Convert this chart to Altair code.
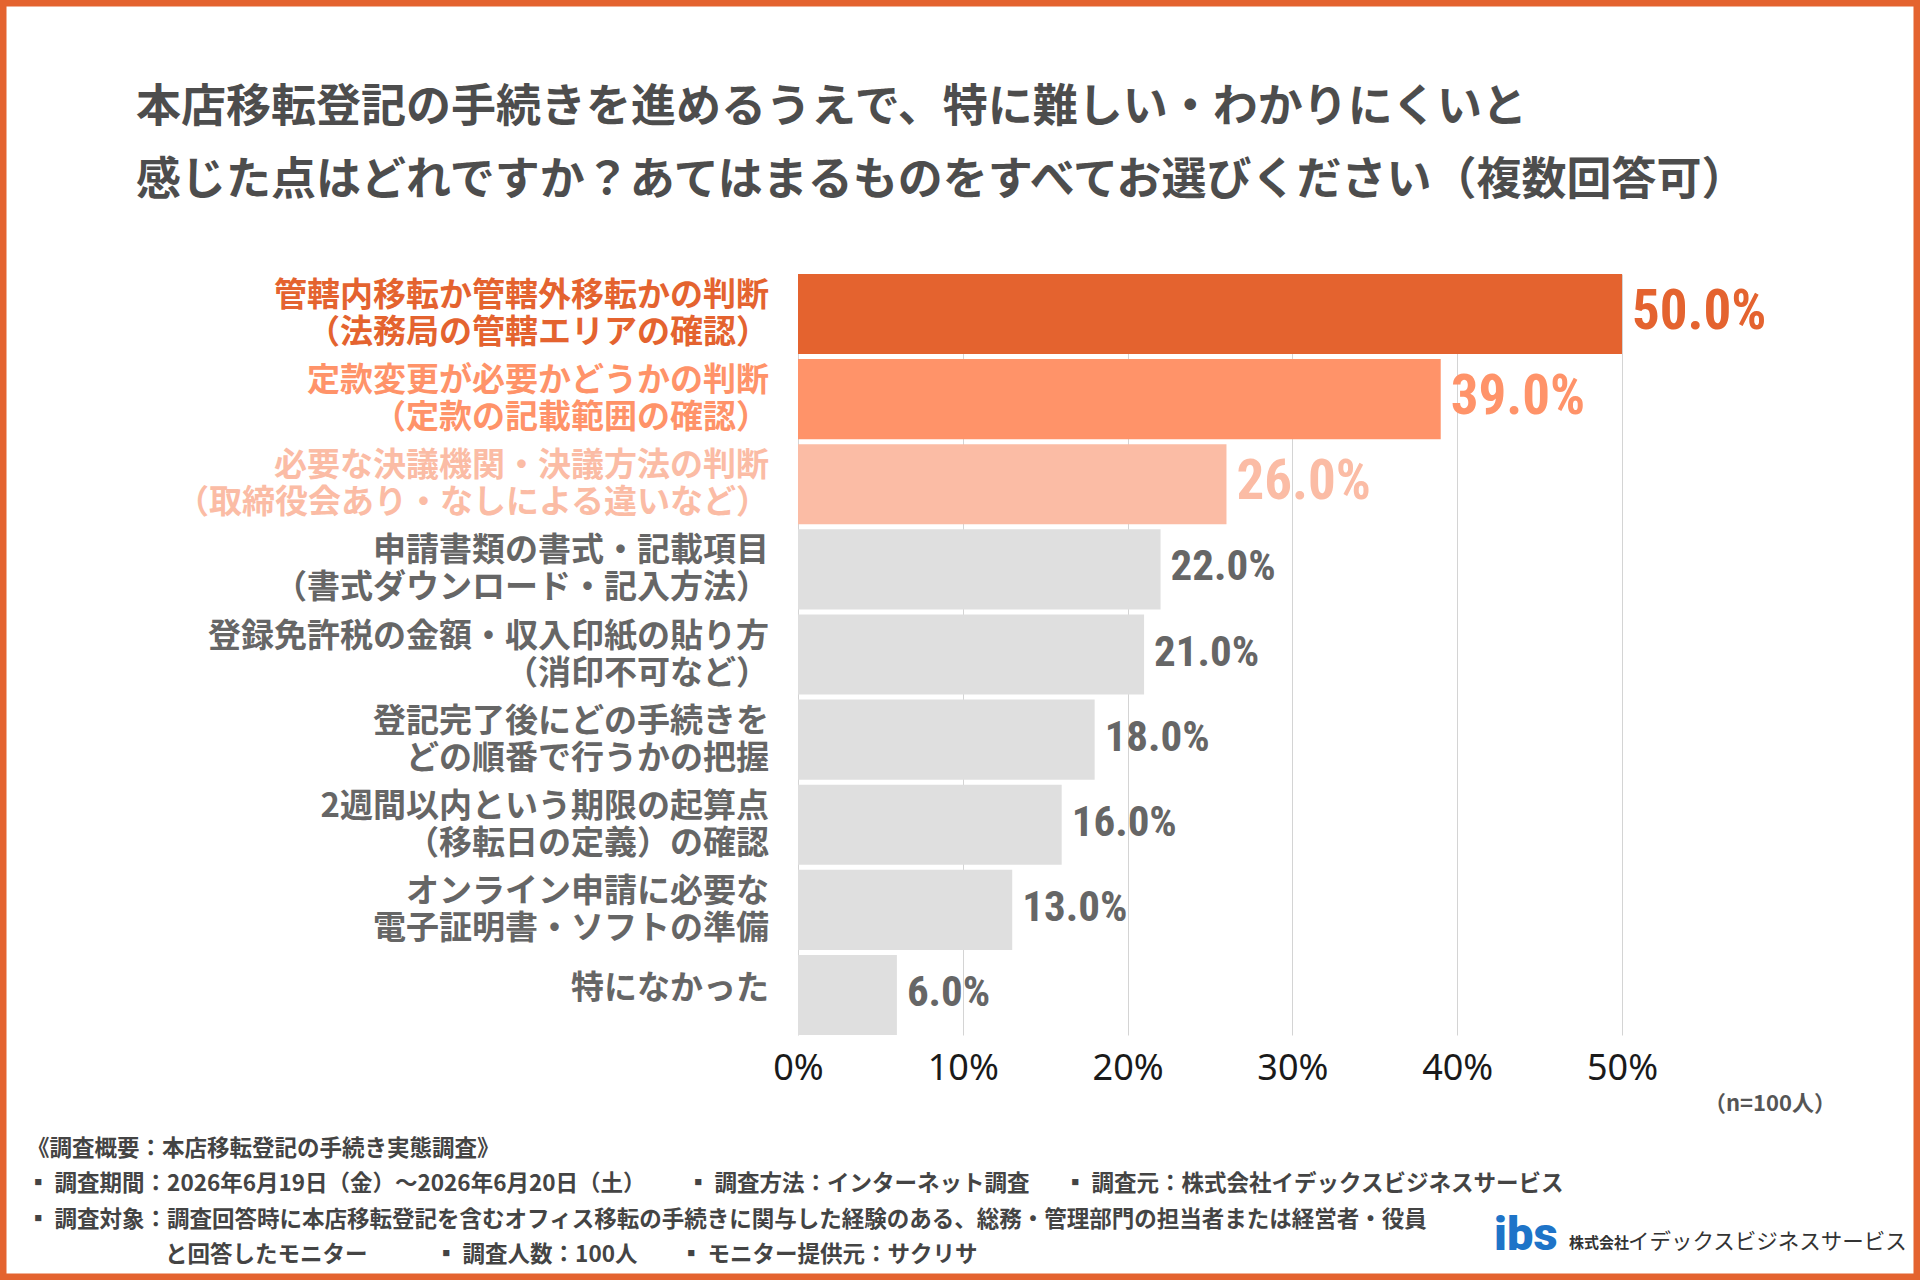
import altair as alt
import pandas as pd

# ---------------- data ----------------
labels = [
    "管轄内移転か管轄外移転かの判断\n（法務局の管轄エリアの確認）",
    "定款変更が必要かどうかの判断\n（定款の記載範囲の確認）",
    "必要な決議機関・決議方法の判断\n（取締役会あり・なしによる違いなど）",
    "申請書類の書式・記載項目\n（書式ダウンロード・記入方法）",
    "登録免許税の金額・収入印紙の貼り方\n（消印不可など）",
    "登記完了後にどの手続きを\nどの順番で行うかの把握",
    "2週間以内という期限の起算点\n（移転日の定義）の確認",
    "オンライン申請に必要な\n電子証明書・ソフトの準備",
    "特になかった",
]
values = [50.0, 39.0, 26.0, 22.0, 21.0, 18.0, 16.0, 13.0, 6.0]
x_ticks = [0, 10, 20, 30, 40, 50]

title_lines = [
    "本店移転登記の手続きを進めるうえで、特に難しい・わかりにくいと",
    "感じた点はどれですか？あてはまるものをすべてお選びください（複数回答可）",
]
n_note = "（n=100人）"
footer_head = "《調査概要：本店移転登記の手続き実態調査》"
footer_row2 = ["▪ 調査期間：2026年6月19日（金）～2026年6月20日（土）",
               "▪ 調査方法：インターネット調査",
               "▪ 調査元：株式会社イデックスビジネスサービス"]
footer_row3 = "▪ 調査対象：調査回答時に本店移転登記を含むオフィス移転の手続きに関与した経験のある、総務・管理部門の担当者または経営者・役員"
footer_row4 = ["と回答したモニター", "▪ 調査人数：100人", "▪ モニター提供元：サクリサ"]
logo_mark = "ibs"
company_prefix = "株式会社"
company_name = "イデックスビジネスサービス"

# ---------------- styles ----------------
ORANGE = "#E4632F"
bar_colors = ["#E4632F", "#FF9369", "#FBBCA5"] + ["#DFDFDF"] * 6
text_colors = ["#E4632F", "#FF9369", "#FBBCA5"] + ["#666666"] * 6
JP = "Noto Sans CJK JP"
NUM = "Roboto Condensed, Open Sans Condensed, Roboto, sans-serif"

OX, OY = 798, 274          # plot origin in page pixels
W, H = 824, 761            # plot area

df = pd.DataFrame({"label": labels, "value": values, "rank": list(range(len(labels)))})

y_enc = alt.Y("label:N", sort=labels, axis=None,
              scale=alt.Scale(paddingInner=0.06, paddingOuter=0))
x_scale = alt.Scale(domain=[0, 50], nice=False)

base = alt.Chart(df)

bars = base.mark_bar().encode(
    x=alt.X("value:Q", scale=x_scale,
            axis=alt.Axis(values=x_ticks, labelExpr="datum.value + '%'", title=None,
                          domain=False, ticks=False, grid=True, gridColor="#d4d4d4",
                          gridWidth=1, labelFont="Noto Sans", labelFontSize=36,
                          labelColor="#1a1a1a", labelPadding=16, labelFlush=False)),
    y=y_enc,
    color=alt.Color("label:N", scale=alt.Scale(domain=labels, range=bar_colors), legend=None),
)

text_color = alt.Color("label:N", scale=alt.Scale(domain=labels, range=text_colors), legend=None)

cat_text_2 = base.transform_filter("datum.rank < 8").mark_text(
    align="right", baseline="middle", font=JP, fontSize=33, fontWeight="bold",
    lineBreak="\n", lineHeight=37, dy=-18).encode(
    x=alt.value(-29), y=y_enc, text="label:N", color=text_color)

cat_text_1 = base.transform_filter("datum.rank >= 8").mark_text(
    align="right", baseline="middle", font=JP, fontSize=33, fontWeight="bold",
    dy=-6).encode(
    x=alt.value(-29), y=y_enc, text="label:N", color=text_color)

val_text = base.transform_calculate(
    txt="format(datum.value, '.1f') + '%'"
).mark_text(align="left", baseline="middle", font=NUM, fontWeight="bold",
            dx=10, dy=-2).encode(
    x=alt.X("value:Q", scale=x_scale),
    y=y_enc,
    text="txt:N",
    color=text_color,
    size=alt.condition("datum.rank < 3", alt.value(55), alt.value(43)),
)


def txt(s, x, y, size, color, weight="normal", align="left", font=JP):
    return alt.Chart(alt.Data(values=[{"t": s}])).mark_text(
        align=align, baseline="middle", font=font, fontSize=size,
        fontWeight=weight, color=color).encode(
        x=alt.value(x - OX), y=alt.value(y - OY), text="t:N")


layers = [bars, cat_text_2, cat_text_1, val_text]

# title
layers.append(txt(title_lines[0], 136, 108, 45, "#4d4d4d", "bold"))
layers.append(txt(title_lines[1], 136, 181, 45, "#4d4d4d", "bold"))

# n note
layers.append(txt(n_note, 1836, 1104, 22, "#555555", "bold", align="right"))

# footer
FC = "#444444"
FS = 22.5
FW = "bold"
layers.append(txt(footer_head, 27, 1149, FS, FC, FW))
for s, x in zip(footer_row2, [27, 687, 1064]):
    layers.append(txt(s, x, 1184, FS, FC, FW))
layers.append(txt(footer_row3, 27, 1220, FS, FC, FW))
for s, x in zip(footer_row4, [165, 435, 680]):
    layers.append(txt(s, x, 1255, FS, FC, FW))

# logo
layers.append(txt(logo_mark, 1494, 1236, 47, "#1E74C8", 900, font="Roboto"))
layers.append(txt(company_prefix, 1569, 1243, 15, "#333333", "bold"))
layers.append(txt(company_name, 1628, 1243, 21.5, "#333333", "normal"))

# frame
frame = alt.Chart(alt.Data(values=[{"a": 1}])).mark_rect(
    fillOpacity=0, stroke=ORANGE, strokeWidth=13).encode(
    x=alt.value(-OX), x2=alt.value(1920 - OX), y=alt.value(-OY), y2=alt.value(1280 - OY))
layers.append(frame)

chart = alt.layer(*layers).resolve_scale(color="independent").properties(
    width=W, height=H,
    padding={"left": OX, "top": OY, "right": 1920 - OX - W, "bottom": 1280 - OY - H},
    autosize=alt.AutoSizeParams(type="none"),
    background="white",
).configure_view(stroke=None)

chart.save("out.html", embed_options={"renderer": "svg", "actions": False})
